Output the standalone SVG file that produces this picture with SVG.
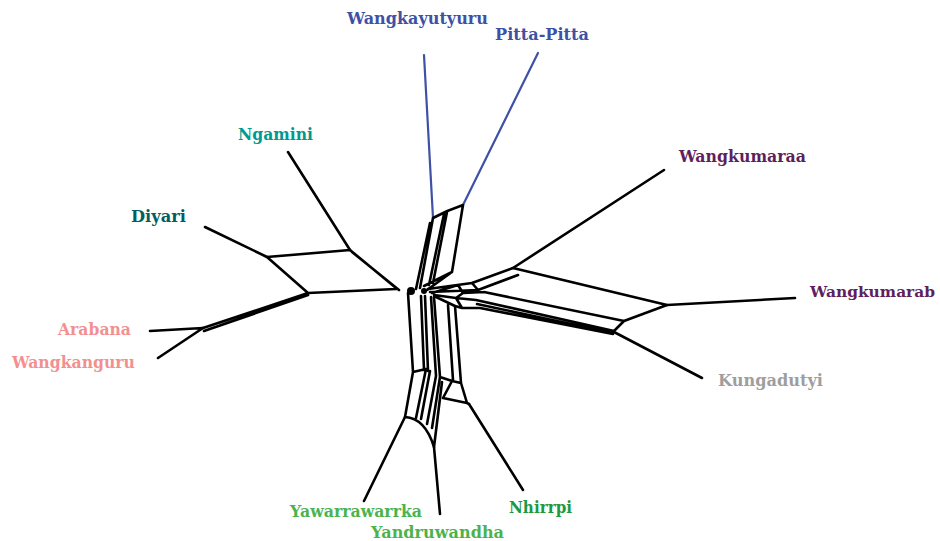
<svg xmlns="http://www.w3.org/2000/svg" width="940" height="541" viewBox="0 0 940 541">
<style>
.e{fill:none;stroke:#000;stroke-width:2.6;stroke-linecap:round;stroke-linejoin:round}
.b{fill:none;stroke:#3f51a5;stroke-width:2.2;stroke-linecap:round}
text{font-family:"DejaVu Serif","Liberation Serif",serif;font-weight:bold;font-size:17px}
</style>
<rect width="940" height="541" fill="#fff"/>
<g id="connectors">
<path class="b" d="M424,55 L433,218 M538,53 L463,205"/>
<path class="e" d="M288,152 L350,250 M205,227 L267,257 M150,331 L203,328 M158,358 L203,328 M664,170 L513,268 M795,298 L667,305 M702,378 L614,332 M364,501 L405,417 M440,514 L434,447 M523,490 L469,404"/>
<!-- left box -->
<path class="e" d="M267,257 L350,250 M267,257 L308,293 M308,293 L396,289 M350,250 L396,288 M352,252 L399,290 M203,328 L308,293 M204,331 L308,295"/>
<!-- top band -->
<path class="e" d="M433,218 Q448,210 463,205 M433,218 L420,288 M430,223 L416,289 M447,212 L433,283 M444,214 L429,285 M463,205 L452,272 L424,286 M452,272 L427,290"/>
<!-- right band -->
<path class="e" d="M513,268 L667,305 M513,268 L472,283 M518,275 L478,290 M472,283 L428,289 M478,290 L430,292 M484,292 L624,321 M624,321 L667,305 M624,321 L614,331 M476,300 L614,331 M477,304 L613,333 M480,308 L613,334 M472,283 L478,290 M458,285 L463,293 L484,292 M463,293 L456,298 L476,300 M456,298 L462,308 L480,308 M432,293 L458,285 M434,295 L456,298 M436,297 L455,306 L462,308"/>
<!-- lower band -->
<path class="e" d="M408,293 L413,372 L405,417 M413,372 L426,369 M421,296 L424,370 M425,296 L428,371 M431,297 L436,376 M434,297 L440,377 M426,369 L416,418 M430,371 L421,419 M436,376 L427,424 M440,377 L432,428 M405,417 Q425,418 434,447 M442,382 L434,447 M440,377 L452,381 L461,383 M448,305 L453,380 M455,306 L461,383 M452,381 L443,398 L467,403 M461,383 L467,403 L469,404"/>
<circle cx="411" cy="291" r="4"/>
<circle cx="424" cy="291" r="3"/>
</g>
<g id="Wangkayutyuru"><text x="347" y="24" fill="#3f51a5" textLength="141" lengthAdjust="spacingAndGlyphs">Wangkayutyuru</text></g>
<g id="Pitta-Pitta"><text x="495" y="40" fill="#3f51a5" textLength="94" lengthAdjust="spacingAndGlyphs">Pitta-Pitta</text></g>
<g id="Ngamini"><text x="238" y="140" fill="#00998f" textLength="75" lengthAdjust="spacingAndGlyphs">Ngamini</text></g>
<g id="Diyari"><text x="131" y="222" fill="#005f60" textLength="55" lengthAdjust="spacingAndGlyphs">Diyari</text></g>
<g id="Wangkumaraa"><text x="679" y="162" fill="#5e1f5e" textLength="127" lengthAdjust="spacingAndGlyphs">Wangkumaraa</text></g>
<g id="Wangkumarab"><text x="810" y="297" fill="#5e1f5e" style="font-size:15px" textLength="125" lengthAdjust="spacingAndGlyphs">Wangkumarab</text></g>
<g id="Kungadutyi"><text x="718" y="386" fill="#9e9e9e" textLength="105" lengthAdjust="spacingAndGlyphs">Kungadutyi</text></g>
<g id="Arabana"><text x="58" y="335" fill="#f29090" textLength="73" lengthAdjust="spacingAndGlyphs">Arabana</text></g>
<g id="Wangkanguru"><text x="12" y="368" fill="#f29090" textLength="123" lengthAdjust="spacingAndGlyphs">Wangkanguru</text></g>
<g id="Yawarrawarrka"><text x="290" y="517" fill="#4cb34c" textLength="132" lengthAdjust="spacingAndGlyphs">Yawarrawarrka</text></g>
<g id="Yandruwandha"><text x="371" y="538" fill="#4cb34c" textLength="133" lengthAdjust="spacingAndGlyphs">Yandruwandha</text></g>
<g id="Nhirrpi"><text x="509" y="513" fill="#1a9a45" textLength="63" lengthAdjust="spacingAndGlyphs">Nhirrpi</text></g>
</svg>
